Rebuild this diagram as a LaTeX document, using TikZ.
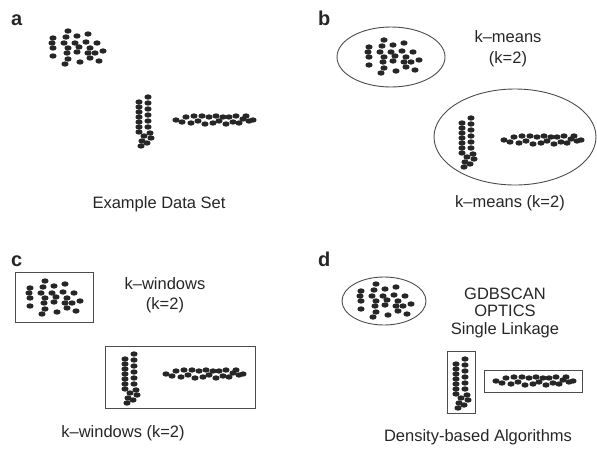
\documentclass[tikz,border=0pt]{standalone}
\usepackage{fontspec}
\setmainfont{Liberation Sans}
\usepackage{tikz}

% dot offsets of the three clusters
\newcommand{\blobpts}{-9/-16, -24/-9, -11/-10, 0/-11, 11/-13, -25/-4, -13/-4, -2/-4, 9/-5, 20/-4,
  -24/1, -9/1, 2/0, 13/1, -24/9, -10/6, 0/5, 11/6, 18/6, 26/4, -9/12, 3/15, 13/11, 22/14, -12/17}
\newcommand{\vlinepts}{-5/-19, -5/-14, -5/-9, -5/-4, -5/1, -5/6, -5/11, 4/-24, 4/-18, 4/-12, 4/-6, 4/0, 4/6,
  6/12, 0/15, 7/17, -2/20, 3/22, -3/25}
\newcommand{\hlinepts}{-37/0, -31/2, -27/-3, -22/3, -19/-4, -15/1, -11/-4, -8/4, -4/-3, 0/3, 3/-4, 6/1,
  10/-3, 13/4, 16/-3, 20/2, 23/-4, 26/3, 30/-1, 33/-4, 36/1, 40/0}

\tikzset{
  dot/.style={fill=black!85},
  outline/.style={draw=black!70, line width=0.9pt},
  panellabel/.style={font=\fontsize{20}{22}\selectfont\bfseries, anchor=base west},
  pics/blob/.style={code={\foreach \dx/\dy in \blobpts {\fill[dot] (\dx,\dy) ellipse (3.6pt and 2.7pt);}}},
  pics/vline/.style={code={\foreach \dx/\dy in \vlinepts {\fill[dot] (\dx,\dy) ellipse (3.6pt and 2.7pt);}}},
  pics/hline/.style={code={\foreach \dx/\dy in \hlinepts {\fill[dot] (\dx,\dy) ellipse (3.6pt and 2.7pt);}}}
}

\begin{document}
\begin{tikzpicture}[x=1pt, y=-1pt, every node/.style={inner sep=0, text=black!85, font=\fontsize{16.5}{19}\selectfont}]
  \useasboundingbox (0,0) rectangle (597,448);

  % a: example data set
  \node (la) [panellabel] at (11,25) {a};
  \pic at (77,47) {blob};
  \pic at (144,121) {vline};
  \pic at (213,120) {hline};
  \node (capa) [anchor=base] at (159,208) {Example Data Set};

  % b: k-means
  \node (lb) [panellabel] at (318,25) {b};
  \draw[outline] (391,57) ellipse (54pt and 30pt);
  \draw[outline] (515,137) ellipse (81pt and 48pt);
  \pic at (393,56) {blob};
  \pic at (467,142) {vline};
  \pic at (541,140) {hline};
  \node (kmeans) [anchor=base] at (508,42) {k--means};
  \node (kmeansk) [anchor=base] at (508,63) {(k=2)};
  \node (capb) [anchor=base] at (510,207) {k--means (k=2)};

  % c: k-windows
  \node (lc) [panellabel] at (11,266) {c};
  \draw[outline] (15,272) rectangle (93,322);
  \draw[outline] (105,346) rectangle (255,408);
  \pic at (54,297) {blob};
  \pic at (130,378) {vline};
  \pic at (203,374) {hline};
  \node (kwin) [anchor=base] at (165,289) {k--windows};
  \node (kwink) [anchor=base] at (165,309) {(k=2)};
  \node (capc) [anchor=base] at (123,437) {k--windows (k=2)};

  % d: density-based
  \node (ld) [panellabel] at (318,266) {d};
  \draw[outline] (384,301) ellipse (42pt and 24pt);
  \draw[outline] (447,351) rectangle (475,413);
  \draw[outline] (484,370) rectangle (582,392);
  \pic at (385,300) {blob};
  \pic at (461,383) {vline};
  \pic at (533,381) {hline};
  \node (gdb) [anchor=base] at (505,299) {GDBSCAN};
  \node (optics) [anchor=base] at (505,316) {OPTICS};
  \node (single) [anchor=base] at (505,334) {Single Linkage};
  \node (capd) [anchor=base] at (478,441) {Density-based Algorithms};
\end{tikzpicture}
\end{document}
